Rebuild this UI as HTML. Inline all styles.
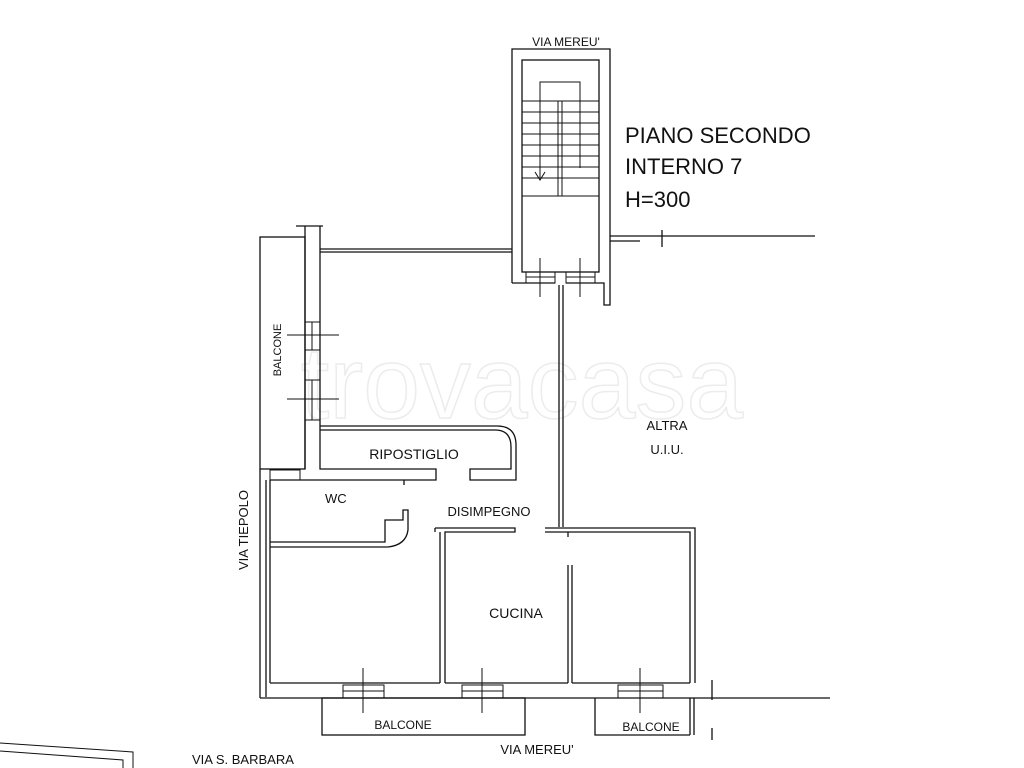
<!DOCTYPE html>
<html><head><meta charset="utf-8"><style>body{margin:0;background:#fff}svg{display:block}</style></head><body>
<svg width="1024" height="768" viewBox="0 0 1024 768" xmlns="http://www.w3.org/2000/svg" font-family="Liberation Sans, sans-serif" fill="none" stroke="#111" stroke-width="1.3">
<text x="522" y="418" font-size="102" fill="none" stroke="#ececec" stroke-width="1.5" text-anchor="middle">trovacasa</text>
<!-- stair block -->
<path d="M512 283V49H610V305H604V283H566"/>
<path d="M512 283H555"/>
<rect x="522" y="60" width="77" height="212"/>
<g stroke-width="1">
<path d="M522 101H599M522 112H599M522 123H599M522 134H599M522 145H599M522 156H599M522 167H599M522 178H599M522 196H599"/>
<path d="M558 101V196M562 101V196"/>
<path d="M540 178V82H580V168"/>
<path d="M535 172L540 180L545 172"/>
<rect x="526" y="272" width="29" height="11"/><path d="M526 277H555"/>
<rect x="566" y="272" width="29" height="11"/><path d="M566 277H595"/>
<path d="M540 258V297M580 258V297"/>
</g>
<path d="M559 285V527M563 285V527"/>
<path d="M610 236H815M610 241H640"/><path d="M662 230V247"/>
<!-- top wall -->
<path d="M320 249H512M320 252H512"/>
<!-- left thick wall -->
<path d="M296 226H323M305 226V469M320 226V432"/>
<rect x="260" y="237" width="45" height="232"/>
<rect x="305" y="322" width="15" height="28" stroke-width="1"/><path d="M312 322V350M287 335H339M305 380H320M305 420H320M312 380V420M287 399H339" stroke-width="1"/>
<!-- ripostiglio -->
<path d="M320 426H497Q516 426 516 445V480H470V469H511V447Q511 430 495 430H320"/>
<path d="M320 432V469H436V480H270"/>
<path d="M260 469V698"/>
<rect x="270" y="470" width="30" height="10" stroke-width="1"/>
<path d="M266 480V697M270 480V683"/>
<path d="M404 480V485"/>
<!-- WC bottom -->
<path d="M270 542H385V520H403V510H408V530Q406 545 388 547H270"/>
<!-- kitchen -->
<path d="M435 528H515V532H445V683M440 532V683M435 528V532"/>
<path d="M545 528H695V683M545 532H690V683M568 532V537"/>
<path d="M568 565V683M572 565V683"/>
<path d="M270 683H440M445 683H568M572 683H690M260 698H830"/>
<g stroke-width="1">
<rect x="343" y="685" width="41" height="13"/><path d="M343 691H384M363 668V713"/>
<rect x="462" y="685" width="41" height="13"/><path d="M462 691H503M482 668V713"/>
<rect x="618" y="685" width="45" height="13"/><path d="M618 691H663M640 668V713"/>
</g>
<path d="M712 680V700"/>
<rect x="322" y="698" width="203" height="37"/>
<path d="M595 698V735H690M690 698V735M694 698V735M712 728V740"/>
<!-- bottom-left -->
<path d="M0 743L133 752V768M0 751L123 760V768" stroke-width="1"/>
<g fill="#111" stroke="none">
<text x="566" y="46" font-size="12" text-anchor="middle">VIA MEREU'</text>
<text x="625" y="143" font-size="22">PIANO SECONDO</text>
<text x="625" y="174" font-size="22">INTERNO  7</text>
<text x="625" y="207" font-size="22">H=300</text>
<text x="667" y="430" font-size="13" text-anchor="middle">ALTRA</text>
<text x="667" y="454" font-size="13" text-anchor="middle">U.I.U.</text>
<text x="414" y="459" font-size="14" text-anchor="middle">RIPOSTIGLIO</text>
<text x="325" y="503" font-size="13">WC</text>
<text x="489" y="516" font-size="13" text-anchor="middle">DISIMPEGNO</text>
<text x="516" y="618" font-size="14" text-anchor="middle">CUCINA</text>
<text x="403" y="729" font-size="12" text-anchor="middle">BALCONE</text>
<text x="651" y="731" font-size="12" text-anchor="middle">BALCONE</text>
<text x="537" y="754" font-size="13" text-anchor="middle">VIA MEREU'</text>
<text x="192" y="764" font-size="13">VIA S. BARBARA</text>
<text transform="translate(248,530) rotate(-90)" font-size="13" text-anchor="middle">VIA TIEPOLO</text>
<text transform="translate(281,350) rotate(-90)" font-size="11" text-anchor="middle">BALCONE</text>
</g>
</svg>
</body></html>
